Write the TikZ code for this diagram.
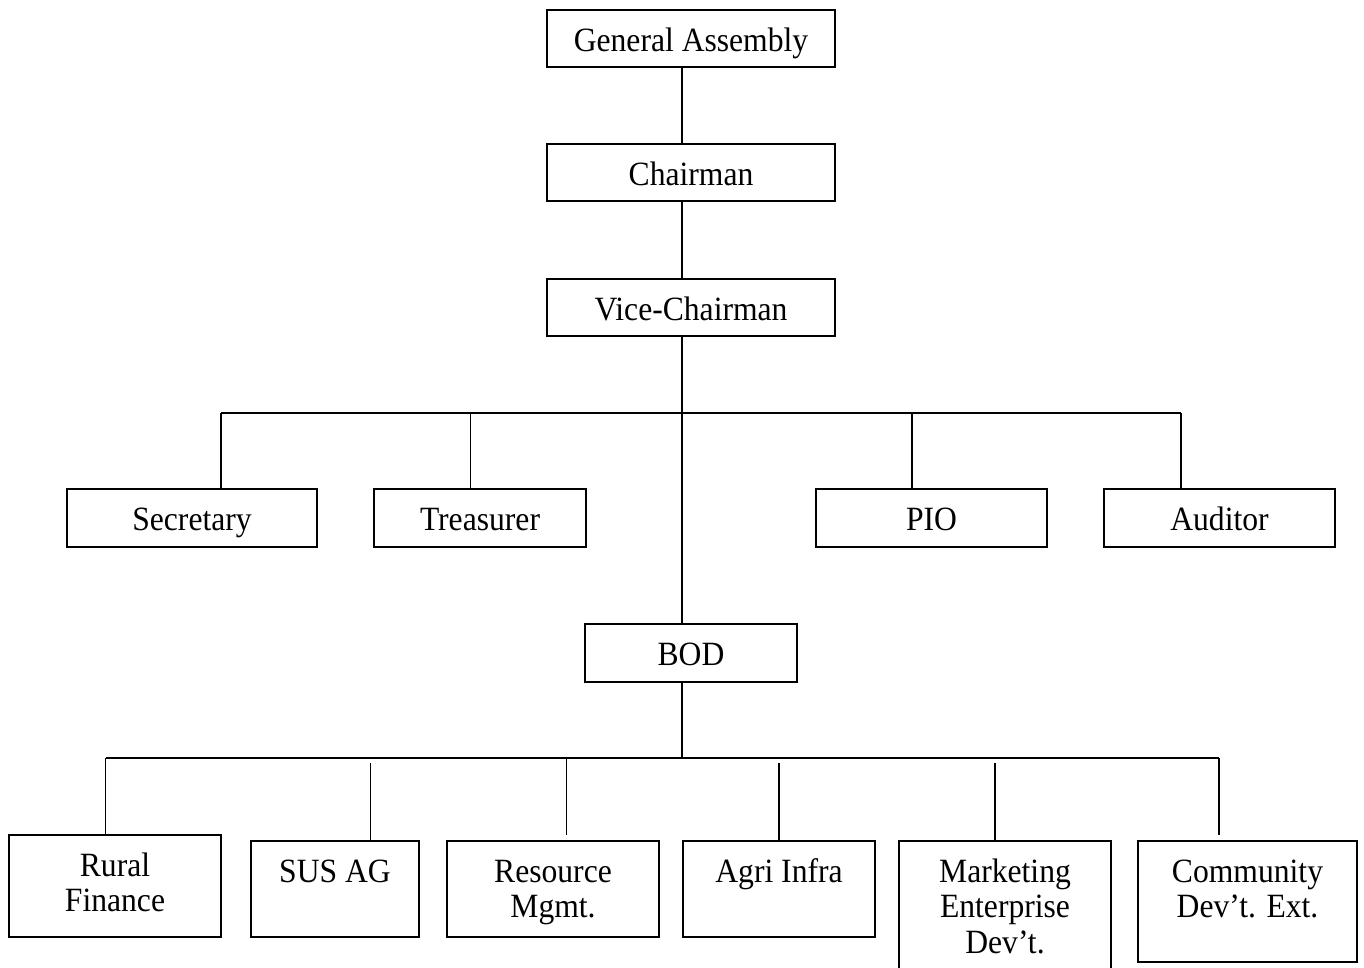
\documentclass[tikz,border=0pt]{standalone}
\usepackage{fontspec}
\setmainfont{Liberation Serif}[FakeStretch=0.93]
\newcommand{\bxt}[3]{\parbox[c][#2][t]{#1}{\centering\rule{0pt}{41pt}#3}}
\tikzset{
  orgbox/.style={draw, line width=1.8pt, inner sep=0pt, font=\fontsize{34}{35.5}\selectfont},
  conn/.style={line width=1.8pt}
}
\begin{document}
\begin{tikzpicture}[x=1pt,y=-1pt]
\useasboundingbox (0,0) rectangle (1364,967);
\clip (0,0) rectangle (1364,967);
% top column
\node[orgbox] (ga)  at (691,38.5)  {\bxt{288pt}{57pt}{General Assembly}};
\node[orgbox] (ch)  at (691,172.5) {\bxt{288pt}{57pt}{Chairman}};
\node[orgbox] (vc)  at (691,307.5) {\bxt{288pt}{57pt}{Vice-Chairman}};
% officers
\node[orgbox] (sec) at (192,518)   {\bxt{250pt}{58pt}{Secretary}};
\node[orgbox] (tre) at (480,518)   {\bxt{212pt}{58pt}{Treasurer}};
\node[orgbox] (pio) at (931.5,518) {\bxt{231pt}{58pt}{PIO}};
\node[orgbox] (aud) at (1219.5,518){\bxt{231pt}{58pt}{Auditor}};
% BOD
\node[orgbox] (bod) at (691,653)   {\bxt{212pt}{58pt}{BOD}};
% committees
\node[orgbox] (rf)   at (115,886)    {\bxt{212pt}{102pt}{Rural\\Finance}};
\node[orgbox] (sus)  at (335,889)    {\bxt{168pt}{96pt}{SUS AG}};
\node[orgbox] (res)  at (553,889)    {\bxt{212pt}{96pt}{Resource\\Mgmt.}};
\node[orgbox] (agri) at (779,889)    {\bxt{192pt}{96pt}{Agri Infra}};
\node[orgbox] (mkt)  at (1005,911)   {\bxt{212pt}{140pt}{Marketing\\Enterprise\\Dev’t.}};
\node[orgbox] (com)  at (1247.5,901.5){\bxt{219pt}{121pt}{Community\\Dev’t. Ext.}};
% spine
\coordinate (sp) at (682,0);
\draw[conn] (ga.south -| sp) -- (ch.north -| sp);
\draw[conn] (ch.south -| sp) -- (vc.north -| sp);
\draw[conn] (vc.south -| sp) -- (bod.north -| sp);
% officer bus
\coordinate (j1) at (221,413);
\coordinate (j2) at (470.5,413);
\coordinate (j3) at (912,413);
\coordinate (j4) at (1181,413);
\draw[conn] (j1) -- (j4);
\draw[conn] (j1) -- (j1 |- sec.north);
\draw[conn] (j2) -- (j2 |- tre.north);
\draw[conn] (j3) -- (j3 |- pio.north);
\draw[conn] (j4) -- (j4 |- aud.north);
% committee bus
\coordinate (k1) at (105.5,758);
\coordinate (k6) at (1219,758);
\draw[conn] (bod.south -| sp) -- (sp |- k1);
\draw[conn] (k1) -- (k6);
\coordinate (s2) at (370.5,763);
\coordinate (s3) at (566.5,758);
\coordinate (e3) at (566.5,835);
\coordinate (s4) at (779,763);
\coordinate (s5) at (995,763);
\coordinate (e6) at (1219,835);
\draw[conn] (k1) -- (k1 |- rf.north);
\draw[conn] (s2) -- (s2 |- sus.north);
\draw[conn] (s3) -- (e3);
\draw[conn] (s4) -- (s4 |- agri.north);
\draw[conn] (s5) -- (s5 |- mkt.north);
\draw[conn] (k6) -- (e6);
\end{tikzpicture}
\end{document}
